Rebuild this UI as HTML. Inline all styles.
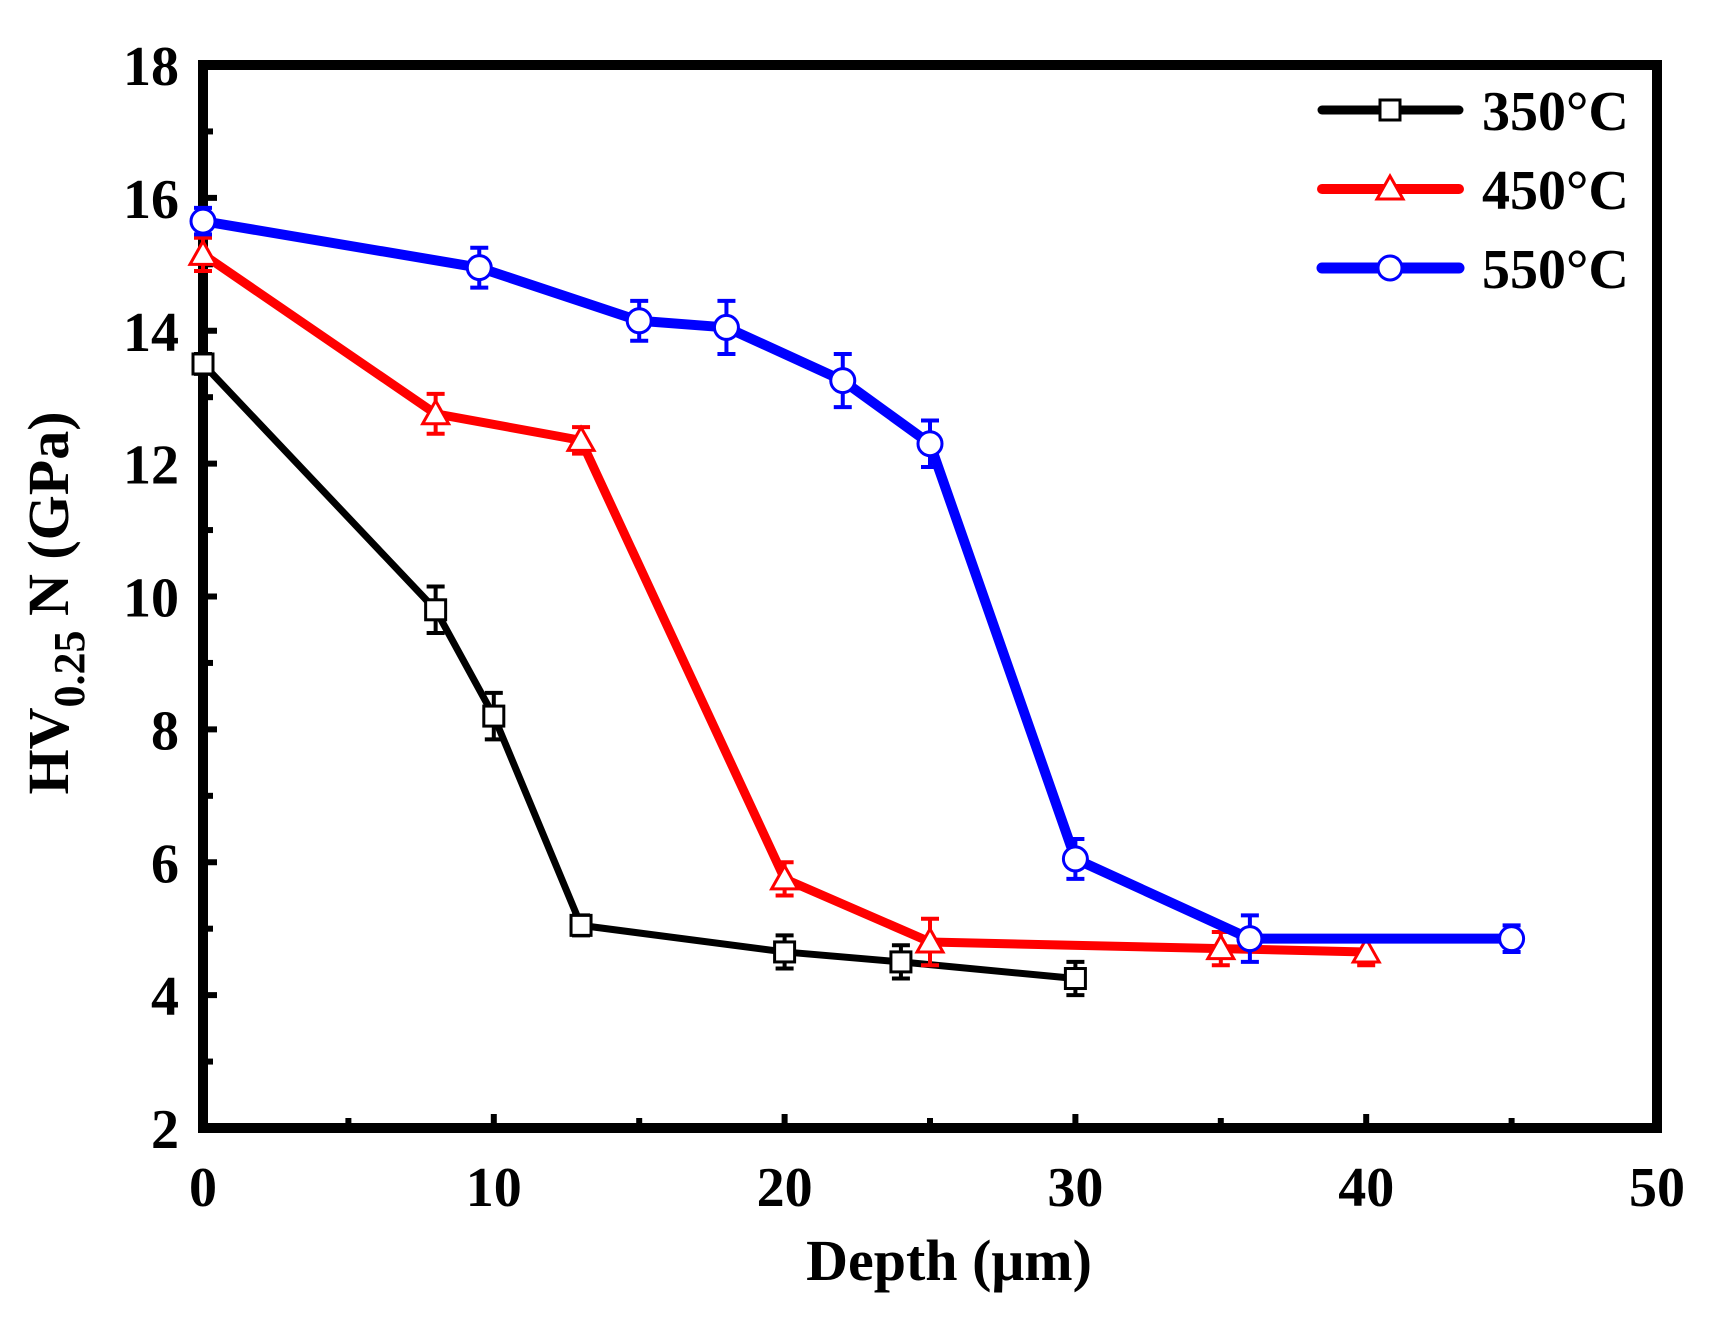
<!DOCTYPE html>
<html><head><meta charset="utf-8"><style>
body{margin:0;background:#fff}
text{font-family:"Liberation Serif",serif;font-weight:bold}
</style></head><body>
<svg id="c" width="1711" height="1314" xmlns="http://www.w3.org/2000/svg"></svg>
<script>
const xTicks=[0,10,20,30,40,50];
const yTicks=[2,4,6,8,10,12,14,16,18];
const s350x=[0,8,10,13,20,24,30];
const s350y=[13.5,9.8,8.2,5.05,4.65,4.5,4.25];
const s350e=[0.15,0.35,0.35,0.15,0.25,0.25,0.25];
const s450x=[0,8,13,20,25,35,40];
const s450y=[15.15,12.75,12.35,5.75,4.8,4.7,4.65];
const s450e=[0.25,0.3,0.2,0.25,0.35,0.25,0.2];
const s550x=[0,9.5,15,18,22,25,30,36,45];
const s550y=[15.65,14.95,14.15,14.05,13.25,12.3,6.05,4.85,4.85];
const s550e=[0.2,0.3,0.3,0.4,0.4,0.35,0.3,0.35,0.2];
const labels=['350°C','450°C','550°C'];
const L=203,R=1657,T=65,B=1128;
const X=v=>L+(v-0)/50*(R-L);
const Y=v=>B-(v-2)/16*(B-T);
const svg=document.getElementById('c');
const NS='http://www.w3.org/2000/svg';
function mk(tag,a,p){const e=document.createElementNS(NS,tag);for(const k in a)e.setAttribute(k,a[k]);(p||svg).appendChild(e);return e;}
xTicks.forEach(v=>{
 const t=mk('line',{x1:X(v),x2:X(v),y1:B,y2:B-14,stroke:'#000','stroke-width':6});
 
 
 const lb=mk('text',{x:X(v),y:B+78,'font-size':56,'text-anchor':'middle'});lb.textContent=v;
 
 
 if(v<50){const m=mk('line',{x1:X(v+5),x2:X(v+5),y1:B,y2:B-10,stroke:'#000','stroke-width':6});
 
 }
});
yTicks.forEach(v=>{
 const t=mk('line',{x1:L,x2:L+14,y1:Y(v),y2:Y(v),stroke:'#000','stroke-width':6});
 
 
 const lb=mk('text',{x:L-24,y:Y(v)+20,'font-size':56,'text-anchor':'end'});lb.textContent=v;
 
 
 if(v<18){const m=mk('line',{x1:L,x2:L+10,y1:Y(v+1),y2:Y(v+1),stroke:'#000','stroke-width':6});
 
 }
});
const frame=mk('rect',{x:L,y:T,width:R-L,height:B-T,fill:'none',stroke:'#000','stroke-width':10});


function marker(type,cx,cy,col,g){
 if(type==='sq')return mk('rect',{x:cx-10,y:cy-10,width:20,height:20,fill:'#fff',stroke:col,'stroke-width':3},g);
 if(type==='tri')return mk('polygon',{points:`${cx},${cy-13} ${cx-13},${cy+10} ${cx+13},${cy+10}`,fill:'#fff',stroke:col,'stroke-width':3},g);
 return mk('circle',{cx:cx,cy:cy,r:12,fill:'#fff',stroke:col,'stroke-width':3},g);
}
function series(xs,ys,es,col,w,type,name){
 const g=mk('g',{});
 
 
 const pl=mk('polyline',{points:xs.map((x,i)=>X(x)+','+Y(ys[i])).join(' '),fill:'none',stroke:col,'stroke-width':w,'stroke-linejoin':'round'},g);
 
 
 xs.forEach((x,i)=>{
  const cx=X(x),y1=Y(ys[i]+es[i]),y2=Y(ys[i]-es[i]);
  const eb=mk('path',{d:`M${cx},${y1}V${y2}M${cx-9},${y1}H${cx+9}M${cx-9},${y2}H${cx+9}`,stroke:col,'stroke-width':4,fill:'none'},g);
  
  
  const m=marker(type,cx,Y(ys[i]),col,g);
  
  
 });
}
series(s350x,s350y,s350e,'#000',7,'sq','series-350c');
series(s450x,s450y,s450e,'#f00',9,'tri','series-450c');
series(s550x,s550y,s550e,'#00f',10,'circ','series-550c');
const cols=['#000','#f00','#00f'],types=['sq','tri','circ'],ws=[9,10,11];
labels.forEach((t,i)=>{
 const y=110+i*79;
 const ln=mk('line',{x1:1322,x2:1459,y1:y,y2:y,stroke:cols[i],'stroke-width':ws[i],'stroke-linecap':'round'});
 
 
 const m=marker(types[i],1390,y,cols[i]);
 
 
 const tx=mk('text',{x:1482,y:y+20,'font-size':56});tx.textContent=t;
 
 
});
const xt=mk('text',{x:949,y:1280,'font-size':58,'text-anchor':'middle'});xt.textContent='Depth (μm)';


const yt=mk('text',{x:0,y:0,'font-size':58,'text-anchor':'middle',transform:'translate(68,603) rotate(-90)'});
yt.innerHTML='HV<tspan dy="16" font-size="44">0.25</tspan><tspan dy="-16"> N (GPa)</tspan>';


</script>
</body></html>
